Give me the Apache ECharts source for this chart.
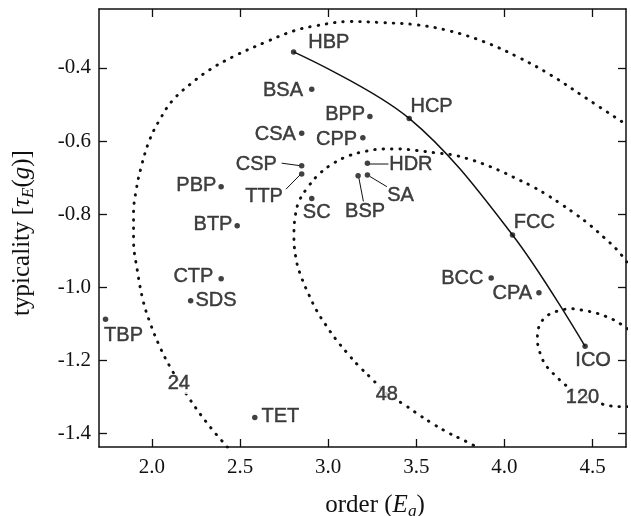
<!DOCTYPE html>
<html>
<head>
<meta charset="utf-8">
<title>typicality vs order</title>
<script src="https://cdn.jsdelivr.net/npm/echarts@6/dist/echarts.min.js"></script>
<style>
  html, body { margin: 0; padding: 0; background: #fff; }
  #main { width: 631px; height: 516px; }
</style>
</head>
<body>
<div id="main"></div>
<script>
// structures: order (E_g) and typicality
var names = ['HBP','BSA','CSA','CSP','TTP','PBP','BTP','SC','BSP','SA','HDR','CPP','BPP','HCP','FCC','BCC','CPA','ICO','CTP','SDS','TBP','TET'];
var order = [2.804,2.907,2.850,2.850,2.850,2.393,2.484,2.907,3.170,3.223,3.223,3.197,3.237,3.460,4.046,3.925,4.196,4.458,2.393,2.220,1.737,2.584];
var typicality = [-0.356,-0.458,-0.579,-0.668,-0.690,-0.725,-0.832,-0.757,-0.695,-0.693,-0.661,-0.591,-0.533,-0.538,-0.857,-0.975,-1.015,-1.162,-0.977,-1.037,-1.088,-1.357];

// the solid curve runs through these structures
var solidPath = ['HBP','HCP','FCC','ICO'];

// dotted contours
var curve24X = [2.429,2.328,2.214,2.110,2.044,1.987,1.949,1.917,1.896,1.896,1.911,1.940,1.987,2.044,2.119,2.224,2.328,2.461,2.651,2.802,2.925,3.124,3.314,3.504,3.693,3.883,4.073,4.262,4.452,4.695];
var curve24Y = [-1.438,-1.381,-1.306,-1.224,-1.162,-1.094,-1.035,-0.953,-0.871,-0.798,-0.734,-0.670,-0.597,-0.542,-0.488,-0.442,-0.405,-0.369,-0.328,-0.299,-0.285,-0.273,-0.276,-0.282,-0.299,-0.328,-0.369,-0.419,-0.479,-0.556];

var curve48X = [4.695,4.636,4.565,4.490,4.410,4.329,4.247,4.162,4.073,3.987,3.893,3.803,3.706,3.604,3.504,3.405,3.311,3.214,3.119,3.030,2.950,2.887,2.834,2.812,2.806,2.821,2.850,2.891,2.935,2.986,3.043,3.106,3.172,3.242,3.341,3.433,3.517,3.598,3.684,3.773,3.841];
var curve48Y = [-0.931,-0.896,-0.864,-0.832,-0.802,-0.775,-0.749,-0.725,-0.704,-0.684,-0.665,-0.650,-0.638,-0.632,-0.626,-0.622,-0.622,-0.628,-0.640,-0.661,-0.690,-0.725,-0.766,-0.811,-0.862,-0.930,-0.975,-1.021,-1.064,-1.103,-1.142,-1.179,-1.215,-1.248,-1.295,-1.322,-1.350,-1.375,-1.399,-1.420,-1.437];

var curve120X = [4.699,4.660,4.619,4.575,4.528,4.477,4.429,4.380,4.329,4.281,4.238,4.205,4.190,4.187,4.196,4.211,4.234,4.262,4.300,4.338,4.444,4.556,4.604,4.651,4.699];
var curve120Y = [-1.114,-1.101,-1.089,-1.080,-1.072,-1.066,-1.062,-1.059,-1.062,-1.069,-1.080,-1.099,-1.121,-1.146,-1.169,-1.192,-1.213,-1.229,-1.247,-1.265,-1.297,-1.320,-1.325,-1.327,-1.327];

var contourNames = ['24','48','120'];
var contourX = [2.153, 3.333, 4.443];
var contourY = [-1.265, -1.295, -1.301];

var xTicks = [2.0, 2.5, 3.0, 3.5, 4.0, 4.5];
var yTicks = [-1.4, -1.2, -1.0, -0.8, -0.6, -0.4];

// label placement: [position, distance, offset]
var labelPlace = {
  HBP: ['right', 12, [0, -9]],
  BSA: ['left', 6, [0, 1]],
  CSA: ['left', 3, [0, 1]],
  CSP: ['left', 22, [0, -1]],
  TTP: ['left', 16, [0, 23]],
  PBP: ['left', 2, [0, -1]],
  BTP: ['left', 2, [0, -1]],
  SC:  ['bottom', 1, [5, 0]],
  BSP: ['bottom', 23, [7, 0]],
  SA:  ['right', 17, [0, 20]],
  HDR: ['right', 19, [0, 1.5]],
  CPP: ['left', 3, [0, 2]],
  BPP: ['left', 2, [0, -2]],
  HCP: ['right', 0, [-1.5, -12]],
  FCC: ['right', 0, [-1.5, -12.5]],
  BCC: ['left', 5, [0, 0]],
  CPA: ['left', 4, [0, 1]],
  ICO: ['bottom', 1, [8, 0]],
  CTP: ['left', 5, [0, -2]],
  SDS: ['right', 2, [0, 0]],
  TBP: ['bottom', 3, [18, 0]],
  TET: ['right', 4, [0, -1]]
};

// leader lines, pixel offsets from the point: [from, to]
var leaders = {
  CSP: [[-20, -2.7], [-2.4, -0.3]],
  TTP: [[-15.7, 15.3], [-1.7, 1]],
  HDR: [[2.5, 0.7], [21, 0.7]],
  SA:  [[2.5, 1.5], [19.5, 11.7]],
  BSP: [[0.8, 2.3], [5.3, 25.7]]
};

var ink = '#111';
var sans = 'Liberation Sans';
var serif = 'Liberation Serif';

function zip(xs, ys) {
  return xs.map(function (x, i) { return [x, ys[i]]; });
}

var pointData = names.map(function (n, i) {
  var p = labelPlace[n];
  return {
    name: n,
    value: [order[i], typicality[i]],
    label: { position: p[0], distance: p[1], offset: p[2] }
  };
});

var solidData = solidPath.map(function (n) {
  var i = names.indexOf(n);
  return [order[i], typicality[i]];
});

var dotStyle = { color: ink, width: 2.9, type: [0.5, 7.9], cap: 'round' };

function dotted(xs, ys) {
  return {
    type: 'line',
    data: zip(xs, ys),
    showSymbol: false,
    smooth: 0.4,
    lineStyle: dotStyle,
    silent: true,
    z: 1
  };
}

var chart = echarts.init(document.getElementById('main'));

var axisCommon = {
  type: 'value',
  axisLine: { show: true, onZero: false, lineStyle: { color: ink, width: 1.5 } },
  axisTick: { show: true, inside: true, length: 8, lineStyle: { color: ink, width: 1.3 } },
  splitLine: { show: false }
};

var nameRich = {
  it: { fontFamily: serif, fontStyle: 'italic', fontSize: 25, color: ink, lineHeight: 30 },
  sub: { fontFamily: serif, fontStyle: 'italic', fontSize: 17, color: ink, lineHeight: 16, verticalAlign: 'bottom' }
};

// sans labels drawn a touch heavier, like the original
var labelText = {
  fontFamily: sans,
  fontSize: 20,
  color: ink,
  textBorderColor: ink,
  textBorderWidth: 0.45
};

var option = {
  backgroundColor: '#fff',
  animation: false,
  grid: { left: 99, right: 5, top: 9, bottom: 69, containLabel: false, outerBoundsMode: 'none' },
  xAxis: [
    Object.assign({}, axisCommon, {
      min: 1.7, max: 4.69, position: 'bottom',
      axisTick: Object.assign({}, axisCommon.axisTick, { customValues: xTicks }),
      axisLabel: {
        customValues: xTicks, margin: 10, color: ink, fontFamily: serif, fontSize: 21,
        formatter: function (v) { return v.toFixed(1); }
      },
      name: 'order ({it|E}{sub|g})',
      nameLocation: 'middle', nameGap: 43,
      nameTextStyle: { fontFamily: serif, fontSize: 25, color: ink, lineHeight: 30, padding: [0, 0, 0, 25], rich: nameRich }
    }),
    Object.assign({}, axisCommon, {
      min: 1.7, max: 4.69, position: 'top',
      axisTick: Object.assign({}, axisCommon.axisTick, { customValues: xTicks }),
      axisLabel: { show: false }
    })
  ],
  yAxis: [
    Object.assign({}, axisCommon, {
      min: -1.4375, max: -0.2386, position: 'left',
      axisTick: Object.assign({}, axisCommon.axisTick, { customValues: yTicks }),
      axisLabel: {
        customValues: yTicks, margin: 8, color: ink, fontFamily: serif, fontSize: 21,
        formatter: function (v) { return v.toFixed(1); }
      },
      name: 'typicality [{it|τ}{sub|E}({it|g})]',
      nameLocation: 'middle', nameGap: 62,
      nameTextStyle: { fontFamily: serif, fontSize: 25, color: ink, lineHeight: 30, padding: [0, 10, 0, 0], rich: nameRich }
    }),
    Object.assign({}, axisCommon, {
      min: -1.4375, max: -0.2386, position: 'right',
      axisTick: Object.assign({}, axisCommon.axisTick, { customValues: yTicks }),
      axisLabel: { show: false }
    })
  ],
  series: [
    dotted(curve24X, curve24Y),
    dotted(curve48X, curve48Y),
    dotted(curve120X, curve120Y),
    {
      type: 'line',
      data: solidData,
      showSymbol: false,
      smooth: 0.35,
      lineStyle: { color: ink, width: 1.5 },
      silent: true,
      z: 2
    },
    {
      type: 'scatter',
      data: pointData,
      symbol: 'circle',
      symbolSize: 5.5,
      itemStyle: { color: ink },
      label: Object.assign({ show: true, formatter: '{b}' }, labelText),
      z: 4
    },
    {
      type: 'scatter',
      data: contourNames.map(function (n, i) { return { name: n, value: [contourX[i], contourY[i]] }; }),
      symbolSize: 0,
      silent: true,
      label: Object.assign({
        show: true,
        position: 'inside',
        formatter: '{b}',
        backgroundColor: '#fff',
        padding: [0, 1]
      }, labelText),
      z: 3
    }
  ]
};

chart.setOption(option);

// leader lines placed from each point's pixel position
var leaderLines = Object.keys(leaders).map(function (n) {
  var i = names.indexOf(n);
  var p = chart.convertToPixel({ gridIndex: 0 }, [order[i], typicality[i]]);
  var a = leaders[n][0], b = leaders[n][1];
  return {
    type: 'line',
    silent: true,
    z: 5,
    shape: { x1: p[0] + a[0], y1: p[1] + a[1], x2: p[0] + b[0], y2: p[1] + b[1] },
    style: { stroke: ink, lineWidth: 1 }
  };
});
chart.setOption({ graphic: leaderLines });
</script>
</body>
</html>
